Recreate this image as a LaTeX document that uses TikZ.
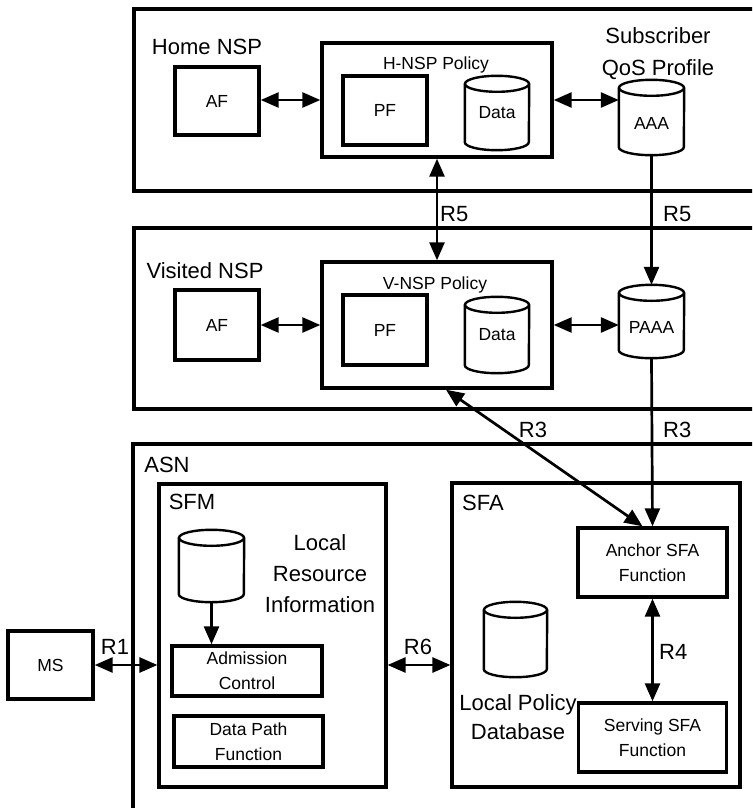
\documentclass[tikz,border=0pt]{standalone}
\usepackage{fontspec}
\setmainfont{Liberation Sans}
\usetikzlibrary{arrows.meta,calc}

% database drum drawn over an invisible node: #1 node name, #2 half width
\newcommand\drum[2]{%
  \draw[drumline] ($(#1.north)+(0,-8)$) ellipse[x radius=#2, y radius=8];
  \draw[drumline] ($(#1.north west)+(0,-8)$) -- ($(#1.south west)+(0,8)$)
    arc[start angle=180, end angle=360, x radius=#2, y radius=8]
    -- ($(#1.north east)+(0,-8)$);
}

\tikzset{
  big/.style={font=\fontsize{22}{31}\selectfont, align=center, inner sep=0pt},
  small/.style={font=\fontsize{17.5}{25}\selectfont, align=center, inner sep=0pt},
  box/.style={draw, line width=3.4pt, inner sep=0pt, small},
  thickbox/.style={box, line width=4pt},
  drumnode/.style={inner sep=0pt, small},
  lowtext/.style={text height=24pt, text depth=0pt},
  drumline/.style={line width=2.4pt},
  region/.style={line width=3.2pt},
  tip/.tip={Triangle[length=18pt, width=15pt]},
  link/.style={line width=2.7pt, -tip},
  both/.style={line width=2.7pt, tip-tip},
}

\begin{document}
\begin{tikzpicture}[x=1pt, y=1pt]
\clip (0,0) rectangle (752,-808);

% ---------- operator domains ----------
\draw[region] (134,-9) rectangle (790,-191);
\draw[region] (134,-228) rectangle (790,-409);
\draw[region] (133,-444) rectangle (790,-830);

\node[big] (homelbl) at (207,-47) {Home NSP};
\node[big] (vislbl) at (205,-271) {Visited NSP};
\node[big] (asnlbl) at (167,-465) {ASN};

% ---------- Home NSP ----------
\node[box, minimum width=84, minimum height=68] (afh) at (217,-101) {AF};
\node[box, minimum width=230, minimum height=114] (polh) at (437,-100) {};
\node[small] (polhlbl) at (436,-65) {H-NSP Policy};
\node[thickbox, minimum width=84, minimum height=69] (pfh) at (385,-110.5) {PF};
\node[drumnode, minimum width=64, minimum height=74] (datah) at (497,-113) {Data};
\drum{datah}{32}
\node[drumnode, lowtext, minimum width=65, minimum height=75] (aaa) at (651.5,-117.5) {AAA};
\drum{aaa}{32.5}
\node[big, font=\fontsize{22}{32}\selectfont] (qos) at (658,-54) {Subscriber\\QoS Profile};

\draw[both] (afh.east |- polh.west) -- (polh.west);
\draw[both] (polh.east) -- (polh.east -| aaa.west);

% ---------- Visited NSP ----------
\node[box, minimum width=84, minimum height=70] (afv) at (217,-325) {AF};
\node[box, minimum width=230, minimum height=126] (polv) at (437,-325) {};
\node[small] (polvlbl) at (435,-285) {V-NSP Policy};
\node[thickbox, minimum width=84, minimum height=70] (pfv) at (385,-330) {PF};
\node[drumnode, minimum width=64, minimum height=76] (datav) at (497,-335) {Data};
\drum{datav}{32}
\node[drumnode, lowtext, minimum width=65, minimum height=73] (paaa) at (651.5,-321.5) {PAAA};
\drum{paaa}{32.5}

\draw[both] (afv.east |- polv.west) -- (polv.west);
\draw[both] (polv.east) -- (polv.east -| paaa.west);

% R5 reference points
\draw[both] (polh.south) -- (polv.north);
\node[big, anchor=west] (r5a) at (440,-214) {R5};
\draw[link] (aaa.south) -- (paaa.north);
\node[big, anchor=west] (r5b) at (663,-214) {R5};

% ---------- ASN ----------
\node[draw, region, minimum width=227, minimum height=303] (sfm) at (272.5,-635.5) {};
\node[big] (sfmlbl) at (192,-502) {SFM};
\node[drumnode, minimum width=65, minimum height=72] (lri) at (211.5,-566) {};
\drum{lri}{32.5}
\node[big, font=\fontsize{22}{31}\selectfont] (lritxt) at (320,-574) {Local\\Resource\\Information};
\node[box, minimum width=150, minimum height=50] (adm) at (247,-671) {Admission\\Control};
\node[box, minimum width=149, minimum height=51] (dpf) at (248.5,-741.5) {Data Path\\Function};
\draw[link] (lri.south) -- (lri.south |- adm.north);

\node[draw, region, minimum width=288, minimum height=304] (sfa) at (596,-635) {};
\node[big] (sfalbl) at (483,-503) {SFA};
\node[box, minimum width=149, minimum height=69] (anc) at (652.5,-562.5) {Anchor SFA\\Function};
\node[box, minimum width=148, minimum height=69] (srv) at (652.5,-737.5) {Serving SFA\\Function};
\node[drumnode, minimum width=63, minimum height=75] (lpd) at (515.5,-639.5) {};
\drum{lpd}{31.5}
\node[big, font=\fontsize{22}{29}\selectfont] (lpdtxt) at (518,-717) {Local Policy\\Database};

\draw[both] (anc.south) -- (srv.north);
\node[big, anchor=west] (r4) at (659,-652) {R4};

% mobile station
\node[box, minimum width=85, minimum height=68] (ms) at (50.5,-665) {MS};
\draw[both] (ms.east) -- (ms.east -| sfm.west);
\node[big] (r1) at (115,-647) {R1};
\draw[both] (sfm.east |- ms.east) -- (sfa.west |- ms.east);
\node[big] (r6) at (418,-647) {R6};

% R3 reference points
\draw[link] (paaa.south) -- (anc.north);
\node[big, anchor=west] (r3b) at (663,-430) {R3};
\draw[both] ($(polv.south)+(9,0)$) -- ($(anc.north)+(-10,0)$);
\node[big] (r3a) at (533,-430) {R3};
\end{tikzpicture}
\end{document}
